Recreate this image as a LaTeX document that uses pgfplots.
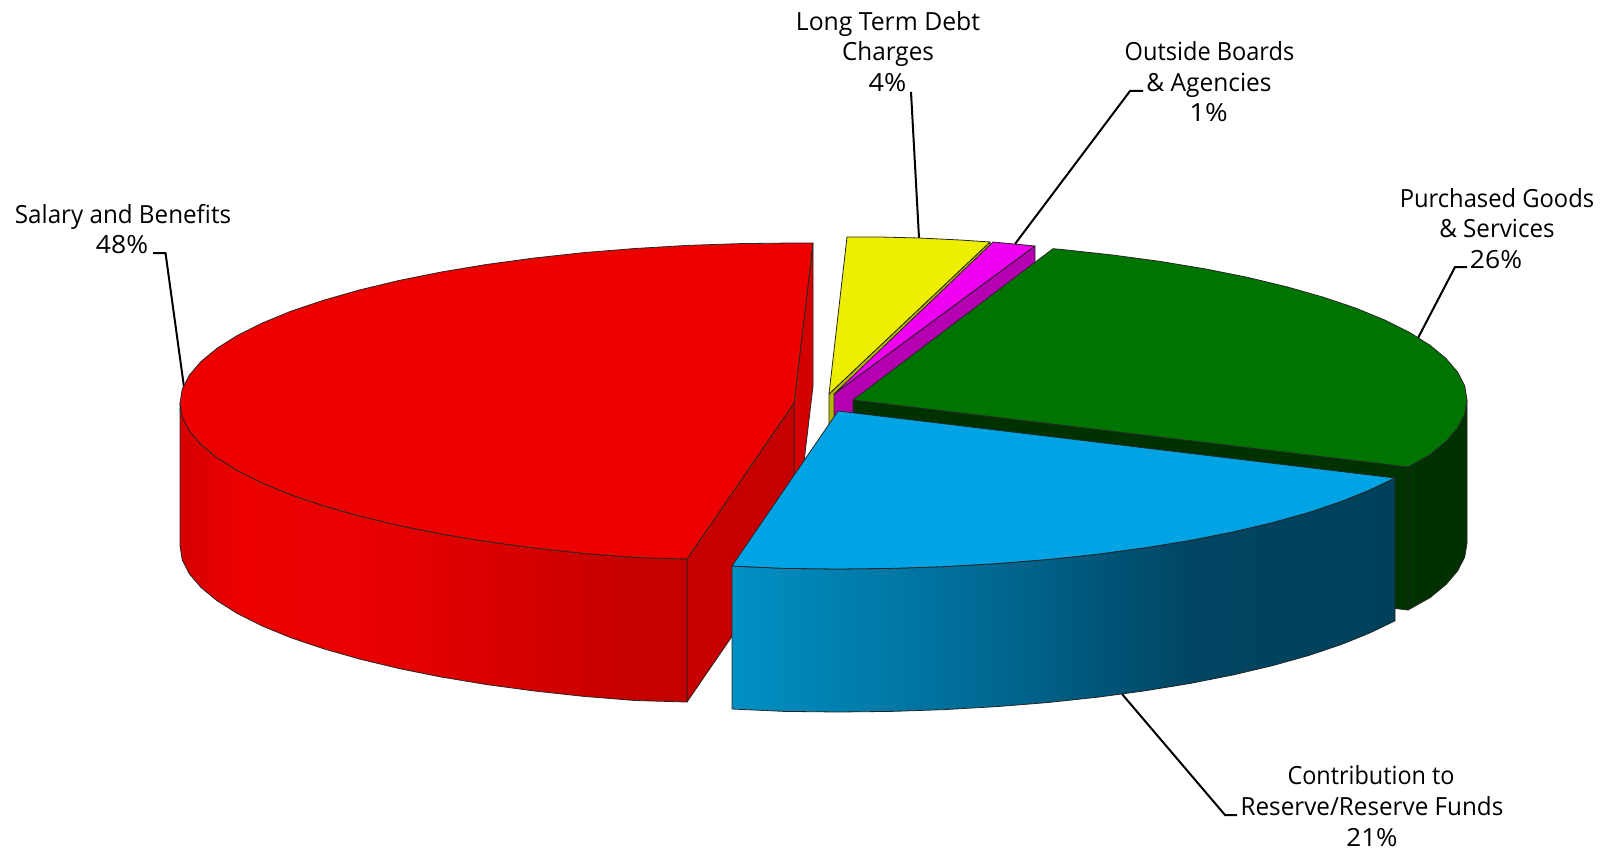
\documentclass[border=0pt]{standalone}
\usepackage{fontspec}
\setmainfont{Open Sans}
\usepackage{pgfplots}
\pgfplotsset{compat=1.18}
\definecolor{redtop}{HTML}{ED0000}
\definecolor{redface}{HTML}{C60000}
\definecolor{redfaceb}{HTML}{D40000}
\definecolor{yeltop}{HTML}{EEEE00}
\definecolor{yelside}{HTML}{B8B800}
\definecolor{magtop}{HTML}{F000F0}
\definecolor{magside}{HTML}{B400B0}
\definecolor{grntop}{HTML}{007400}
\definecolor{grnside}{HTML}{003200}
\definecolor{blutop}{HTML}{00A4E4}
\definecolor{ra}{HTML}{D60000}
\definecolor{rb}{HTML}{EC0000}
\definecolor{rc}{HTML}{E80000}
\definecolor{rd}{HTML}{D80000}
\definecolor{re}{HTML}{C40000}
\definecolor{ba}{HTML}{0090C4}
\definecolor{bb}{HTML}{006E9A}
\definecolor{bc}{HTML}{004562}
\definecolor{bd}{HTML}{00405A}
\pgfdeclarehorizontalshading{redside}{100bp}{color(0bp)=(ra); color(25bp)=(ra); color(31bp)=(rb); color(44bp)=(rc); color(58bp)=(rd); color(70bp)=(re); color(100bp)=(re)}
\pgfdeclarehorizontalshading{bluside}{100bp}{color(0bp)=(ba); color(25bp)=(ba); color(42bp)=(bb); color(60bp)=(bc); color(75bp)=(bd); color(100bp)=(bd)}
\pgfplotsset{face/.style={draw=black!85, line width=0.4pt, line join=round, mark=none, solid}}
\newcommand{\sx}[2]{\scalebox{#1}[1]{#2}}
\begin{document}
\begin{tikzpicture}
\begin{axis}[
  scale only axis, width=802pt, height=425pt,
  xmin=0, xmax=1604, ymin=0, ymax=850, y dir=reverse,
  hide axis, clip=false]
\path (axis cs:0,0) rectangle (axis cs:1604,850);
% --- leader lines
\addplot[black, line width=1pt, mark=none] coordinates {(153,253)(165.5,253)(184,387)};
\addplot[black, line width=1pt, mark=none] coordinates {(911,92)(919,238)};
\addplot[black, line width=1pt, mark=none] coordinates {(1143,91)(1130,91)(1015,244)};
\addplot[black, line width=1pt, mark=none] coordinates {(1467,267)(1455,267)(1418,338)};
\addplot[black, line width=1pt, mark=none] coordinates {(1122,694)(1225,815)(1237,815)};
% --- Salary and Benefits 48
\addplot[face, fill=redfaceb] coordinates {(813,243)(813,386)(794,546)(794,403)} --cycle;
\addplot[face, fill=redface] coordinates {(794,403)(794,546)(687,702)(687,559)} --cycle;
\addplot[face, shading=redside] coordinates {(180,403)(182.3,417)(189.3,430.8)(200.9,444.4)(217,457.7)(237.5,470.6)(262.3,483)(291,494.8)(323.7,505.8)(359.8,516.1)(399.3,525.6)(441.8,534.1)(487,541.6)(534.5,548)(584,553.4)(635.1,557.5)(687,559)
 (687,702)(635.1,700.5)(584,696.4)(534.5,691)(487,684.6)(441.8,677.1)(399.3,668.6)(359.8,659.1)(323.7,648.8)(291,637.8)(262.3,626)(237.5,613.6)(217,600.7)(200.9,587.4)(189.3,573.8)(182.3,560)(180,546)} --cycle;
\addplot[face, fill=redtop] coordinates {(794,403)(813,243)(794,243)(740.5,243.6)(687.4,245.4)(635.1,248.5)(584,252.6)(534.5,258)(487,264.4)(441.8,271.9)(399.3,280.4)(359.8,289.9)(323.7,300.2)(291,311.2)(262.3,323)(237.5,335.4)(217,348.3)(200.9,361.6)(189.3,375.2)(182.3,389)(180,403)(182.3,417)(189.3,430.8)(200.9,444.4)(217,457.7)(237.5,470.6)(262.3,483)(291,494.8)(323.7,505.8)(359.8,516.1)(399.3,525.6)(441.8,534.1)(487,541.6)(534.5,548)(584,553.4)(635.1,557.5)(687,559)} --cycle;
% --- Long Term Debt Charges 4
\addplot[face, fill=yelside] coordinates {(990,242)(990,385)(829,537)(829,394)} --cycle;
\addplot[face, fill=yeltop] coordinates {(829,394)(847,237)(880,237)(919,238)(960,240)(990,242)} --cycle;
% --- Outside Boards 1
\addplot[face, fill=magside] coordinates {(1035,246)(1035,389)(834,537)(834,394)} --cycle;
\addplot[face, fill=magtop] coordinates {(834,394)(993,242)(1014,244)(1035,246)} --cycle;
% --- Purchased Goods 26
\addplot[face, fill=grnside] coordinates {(1467,400)(1464.7,414)(1457.7,427.8)(1446.1,441.4)(1430,454.7)(1408,467)(1408,610)(1430,597.7)(1446.1,584.4)(1457.7,570.8)(1464.7,557)(1467,543)} --cycle;
\addplot[face, fill=grnside] coordinates {(853,400)(1408,467)(1408,610)(853,543)} --cycle;
\addplot[face, fill=grntop] coordinates {(853,400)(1053,248.7)(1063,249.6)(1112.5,255)(1160,261.4)(1205.2,268.9)(1247.7,277.4)(1287.2,286.9)(1323.3,297.2)(1356,308.2)(1384.7,320)(1409.5,332.4)(1430,345.3)(1446.1,358.6)(1457.7,372.2)(1464.7,386)(1467,400)(1464.7,414)(1457.7,427.8)(1446.1,441.4)(1430,454.7)(1408,467)} --cycle;
% --- Contribution to Reserve 21
\addplot[face, shading=bluside] coordinates {(732,566)(784.5,568.4)(838,569)(891.5,568.4)(944.6,566.6)(996.9,563.6)(1048,559.5)(1097.5,554.2)(1145,547.8)(1190.2,540.4)(1232.7,532)(1272.2,522.7)(1308.3,512.6)(1341,501.6)(1369.7,490)(1395,478)
 (1395,620.8)(1369.7,633)(1341,644.6)(1308.3,655.6)(1272.2,665.7)(1232.7,675)(1190.2,683.4)(1145,690.8)(1097.5,697.2)(1048,702.5)(996.9,706.6)(944.6,709.6)(891.5,711.4)(838,712)(784.5,711.4)(732,709)} --cycle;
\addplot[face, fill=blutop] coordinates {(838,411)(732,566)(784.5,568.4)(838,569)(891.5,568.4)(944.6,566.6)(996.9,563.6)(1048,559.5)(1097.5,554.2)(1145,547.8)(1190.2,540.4)(1232.7,532)(1272.2,522.7)(1308.3,512.6)(1341,501.6)(1369.7,490)(1395,478)} --cycle;
% --- labels
\tikzset{lab/.style={anchor=base, inner sep=0pt, font=\fontsize{12.5pt}{15pt}\selectfont, text=black}}
\node[lab] at (axis cs:123,223) {\sx{.968}{Salary and Benefits}};
\node[lab] at (axis cs:122,253) {\sx{1.06}{48\%}};
\node[lab] at (axis cs:888,31) {\sx{.99}{Long Term Debt}};
\node[lab] at (axis cs:888,61) {\sx{.97}{Charges}};
\node[lab] at (axis cs:887.5,92) {\sx{1.08}{4\%}};
\node[lab] at (axis cs:1209.5,61) {\sx{.943}{Outside Boards}};
\node[lab] at (axis cs:1209,92) {\sx{.98}{\& Agencies}};
\node[lab] at (axis cs:1208.5,122) {\sx{1.1}{1\%}};
\node[lab] at (axis cs:1497,207) {\sx{.95}{Purchased Goods}};
\node[lab] at (axis cs:1497,237) {\sx{.966}{\& Services}};
\node[lab] at (axis cs:1496,268) {\sx{1.06}{26\%}};
\node[lab] at (axis cs:1371,784) {\sx{.937}{Contribution to}};
\node[lab] at (axis cs:1372,815) {\sx{.97}{Reserve/Reserve Funds}};
\node[lab] at (axis cs:1372,846) {\sx{1.04}{21\%}};
\end{axis}
\end{tikzpicture}
\end{document}
